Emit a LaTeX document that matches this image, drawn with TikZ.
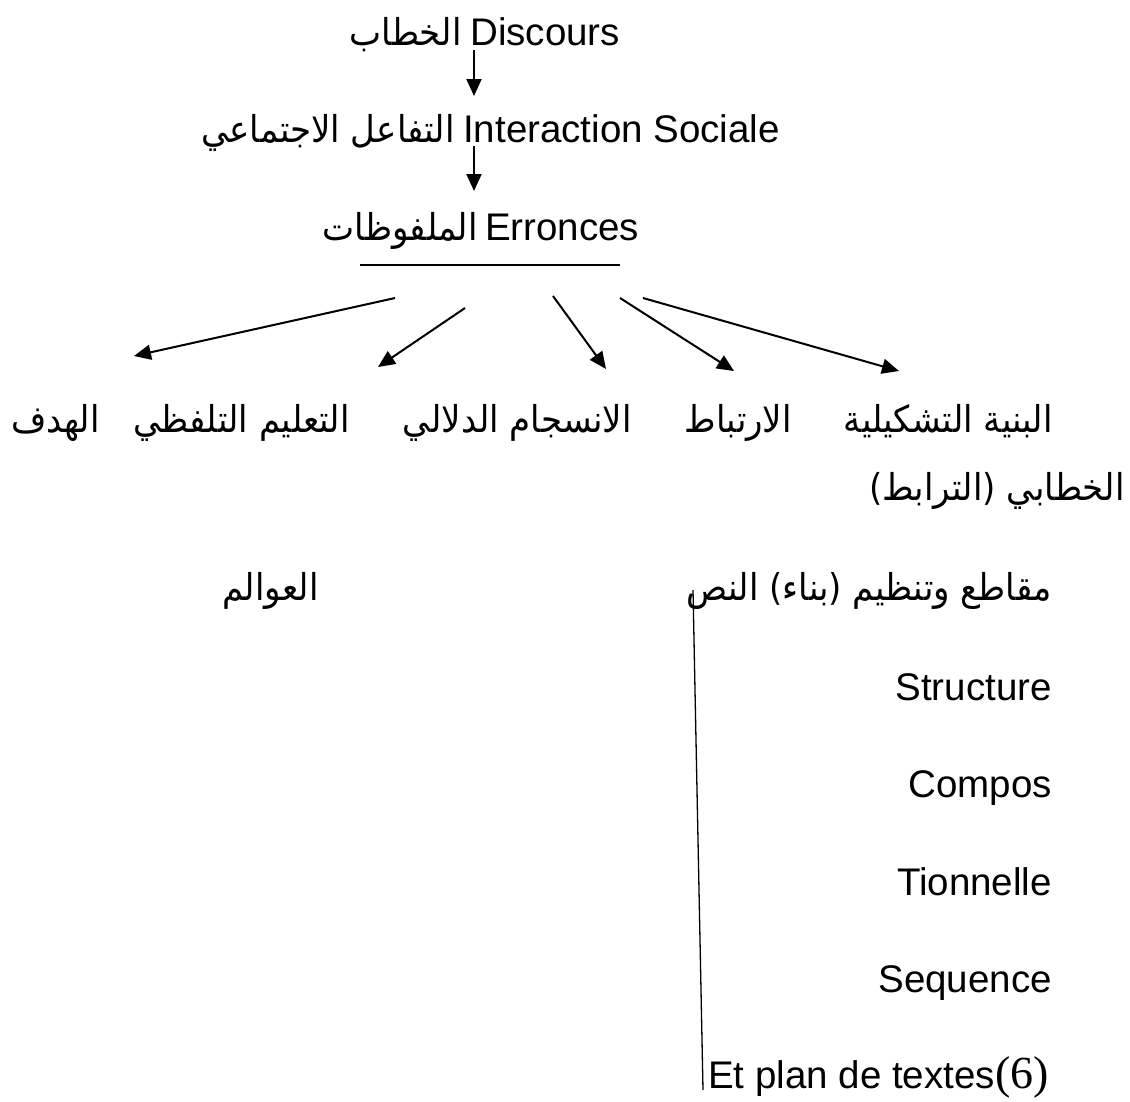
\documentclass[tikz,border=0pt]{standalone}
\usepackage{fontspec}
\setmainfont{Liberation Sans}
\newfontfamily\arabicfont[Script=Arabic,FakeStretch=0.92]{DejaVu Sans}
\newfontfamily\serifnum{Liberation Serif}
\TeXXeTstate=1
\usetikzlibrary{arrows.meta}
\begin{document}
\begin{tikzpicture}[x=1pt,y=-1pt,
 lat/.style={inner sep=0pt, font=\fontsize{38.5}{44}\selectfont},
 ar/.style={inner sep=0pt, font=\fontsize{37}{42}\selectfont\arabicfont},
 arr/.style={-{Triangle[length=17pt,width=15pt]}, line width=2pt},
 ln/.style={line width=1.3pt}]
\useasboundingbox (0,0) rectangle (1130,1101);
\fill[white] (0,0) rectangle (1130,1101);

\node[ar, anchor=base east] (khitab) at (462,45) {\beginR الخطاب\endR};
\node[lat, anchor=base west] (disc) at (470,45) {Discours};
\node[ar, anchor=base east] (tafaul) at (455,142) {\beginR التفاعل الاجتماعي\endR};
\node[lat, anchor=base west] (inter) at (463,142) {Interaction Sociale};
\node[ar, anchor=base east] (malfuz) at (478,240) {\beginR الملفوظات\endR};
\node[lat, anchor=base west] (erron) at (485,240) {Erronces};

\coordinate (a1s) at (474,50);
\coordinate (a1e) at (474,96);
\coordinate (a2s) at (474,146);
\coordinate (a2e) at (474,191);
\draw[arr] (a1s) -- (a1e);
\draw[arr] (a2s) -- (a2e);

\coordinate (hl) at (360,265);
\coordinate (hr) at (620,265);
\draw[ln] (hl) -- (hr);

\coordinate (s1) at (395,298); \coordinate (t1) at (134,356);
\coordinate (s2) at (465,308); \coordinate (t2) at (378,367);
\coordinate (s3) at (553,296); \coordinate (t3) at (606,369);
\coordinate (s4) at (620,298); \coordinate (t4) at (734,371);
\coordinate (s5) at (643,298); \coordinate (t5) at (899,371);
\foreach \i in {1,...,5} {\draw[arr] (s\i) -- (t\i);}

\node[ar, anchor=base east] (hadaf) at (100,432) {\beginR الهدف\endR};
\node[ar, anchor=base east] (talim) at (350,432) {\beginR التعليم التلفظي\endR};
\node[ar, anchor=base east] (insijam) at (632,432) {\beginR الانسجام الدلالي\endR};
\node[ar, anchor=base east] (irtibat) at (792,432) {\beginR الارتباط\endR};
\node[ar, anchor=base east] (binya) at (1053,432) {\beginR البنية التشكيلية\endR};
\node[ar, anchor=base east] (khitabi) at (1125,500) {\beginR الخطابي (الترابط)\endR};

\node[ar, anchor=base west] (awalim) at (222,600) {\beginR العوالم\endR};
\node[ar, anchor=base east] (maqati) at (1052,600) {\beginR مقاطع وتنظيم (بناء) النص\endR};

\node[lat, anchor=base east] (struct) at (1052,700) {Structure};
\node[lat, anchor=base east] (compos) at (1052,797) {Compos};
\node[lat, anchor=base east] (tion) at (1052,895) {Tionnelle};
\node[lat, anchor=base east] (seq) at (1052,992) {Sequence};
\node[lat, anchor=base west] (etplan) at (708,1088) {Et plan de textes{\serifnum\fontsize{46}{48}\selectfont(6)}};

\coordinate (vt) at (693,590);
\coordinate (vb) at (703,1090);
\draw[ln] (vt) -- (vb);
\end{tikzpicture}
\end{document}
